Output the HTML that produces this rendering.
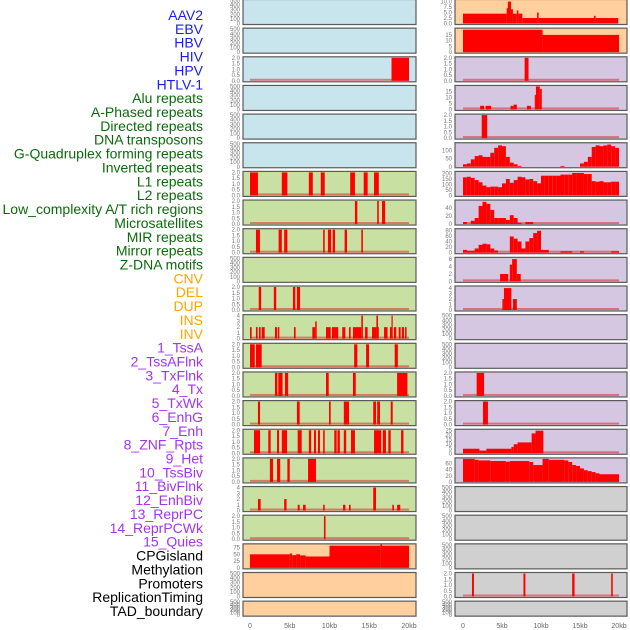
<!DOCTYPE html>
<html><head><meta charset="utf-8">
<style>
html,body{margin:0;padding:0;background:#fff;}
svg{display:block;font-family:"Liberation Sans",sans-serif;}
</style></head>
<body>
<svg id="chart" width="630" height="630" viewBox="0 0 630 630" xmlns="http://www.w3.org/2000/svg"></svg>
<script>
// ---- labels ----
const trackLabels = ["AAV2","EBV","HBV","HIV","HPV","HTLV-1","Alu repeats","A-Phased repeats","Directed repeats","DNA transposons","G-Quadruplex forming repeats","Inverted repeats","L1 repeats","L2 repeats","Low_complexity A/T rich regions","Microsatellites","MIR repeats","Mirror repeats","Z-DNA motifs","CNV","DEL","DUP","INS","INV","1_TssA","2_TssAFlnk","3_TxFlnk","4_Tx","5_TxWk","6_EnhG","7_Enh","8_ZNF_Rpts","9_Het","10_TssBiv","11_BivFlnk","12_EnhBiv","13_ReprPC","14_ReprPCWk","15_Quies","CPGisland","Methylation","Promoters","ReplicationTiming","TAD_boundary"];
const labelGroups = [6,13,5,15,5];
const xTickValues = [0,5,10,15,20];
const xTickLabels = ["0","5kb","10kb","15kb","20kb"];

// ---- tick sets ----
const ticks500 = [0,100,200,300,400,500];
const ticks2 = [0,0.5,1,1.5,2];
const ticks4 = [0,1,2,3,4];

// ---- left column data: [startKb, endKb, value] ----
const L3_segments = [[17.8,20,2]];
const L7_segments = [[0,1,2],[4,4.7,2],[7.4,7.9,2],[8.9,9.4,2],[12.6,13.2,2],[14.3,14.8,2],[15.6,16.2,2]];
const L8_segments = [[13.2,13.5,2],[16,16.2,2],[16.6,17,2]];
const L9_segments = [[0.75,1.25,2],[3.6,4,2],[4.3,4.7,2],[9.2,9.4,2],[9.8,10.2,2],[10.4,10.7,2],[11.9,12.2,2],[14,14.2,2]];
const L11_segments = [[1.1,1.4,2],[3,3.3,2],[5.4,5.7,2],[5.9,6.3,2]];
const L12_segments = [[0,0.21,2],[0.75,0.96,2],[1.13,1.34,2],[1.47,1.85,2],[3.14,3.4,2],[3.5,3.69,2],[5.53,5.74,2],[7.84,8.2,2],[8.2,8.39,3],[9.56,10.15,2],[10.3,11.1,2],[11.6,12,2],[12.45,12.66,2],[12.95,14.0,2],[14.0,14.2,4],[14.47,14.8,2],[15.35,15.9,2],[15.9,16.1,4],[16.1,16.2,2],[16.86,17.3,2],[17.6,17.8,2],[17.8,17.95,4],[18.1,18.4,2],[18.7,18.95,2],[19.1,19.37,2],[19.5,19.7,2]];
const L13_segments = [[0,0.6,2],[0.75,1.47,2],[13.1,13.5,2],[14.6,14.97,2],[18.2,18.6,2]];
const L14_segments = [[3.14,3.44,2],[3.56,4.1,2],[4.4,4.8,2],[9.56,9.9,2],[12.95,13.3,2],[18.5,19.8,2]];
const L15_segments = [[1.0,1.26,2],[5.9,6.25,2],[9.94,10.15,2],[11.8,12.45,2],[15.5,15.85,2],[16,16.35,2],[17.7,17.95,2]];
const L16_segments = [[0.5,1.26,2],[2.3,2.6,2],[3.4,3.65,2],[4.0,4.66,2],[6.0,6.5,2],[7.4,7.7,2],[8.05,8.3,2],[8.55,8.8,2],[9.2,9.4,2],[10.6,10.9,2],[11,11.3,2],[11.8,12.1,2],[12.7,13.2,2],[15.6,16.5,2],[16.7,17.1,2],[17.4,17.7,2],[19,19.3,2]];
const L17_segments = [[2.5,2.9,2],[3.4,3.8,2],[4.7,5.0,2],[7.3,8.3,2]];
const L18_segments = [[1.0,1.34,2],[4.3,4.6,2],[6.0,6.25,1],[6.67,7.0,1],[9.2,9.4,1],[11.7,12.0,1],[12.45,12.66,1],[15.5,15.85,4],[17.9,18.1,1],[18.5,18.9,1]];
const L19_segments = [[9.3,9.5,2]];
const L20_segments = [[0,5,50],[5,5.3,53],[5.3,5.8,47],[5.8,6.3,50],[6.3,7,46],[7,10,42],[10,16.4,82],[16.4,16.6,87],[16.6,20,82]];

// ---- right column data ----
const R1_segments = [[0,5.6,4.5],[5.6,5.75,7],[5.75,6.15,10],[6.15,6.4,6.5],[6.4,6.9,4.5],[6.9,7.1,6],[7.1,7.6,4.5],[7.6,9.5,2.5],[9.5,9.7,5],[9.7,16.8,2.5],[16.8,17,3.5],[17,19.9,2.5]];
const R2_segments = [[0,10.2,19.5],[10.2,20,15]];
const R3_segments = [[7.9,8.4,2]];
const R4_segments = [[2.2,2.7,3],[2.9,3.6,3],[6.1,6.5,3],[6.5,6.9,4],[8.2,8.7,3],[9.2,9.35,12],[9.35,9.85,19],[9.85,10.1,17]];
const R5_segments = [[2.4,3.1,2]];
const R6_bins = [15,20,45,65,70,60,60,85,115,130,125,60,25,15,5,0,0,0,0,0,0,0,0,0,0,5,0,0,0,0,20,30,60,120,130,125,130,135,125,115];
const R7_bins = [165,170,160,140,120,90,75,80,80,75,110,150,115,140,170,165,145,150,130,110,180,180,180,180,180,190,190,190,205,205,205,195,195,130,125,130,120,120,125,125];
const R8_bins = [5,0,8,15,45,55,50,35,15,15,15,10,22,15,3,0,5,5,0,0,0,0,0,0,0,0,0,0,0,0,0,0,0,0,0,0,0,0,0,0];
const R9_bins = [10,7,7,15,28,32,30,15,8,0,0,0,58,50,40,15,40,52,70,78,10,10,0,0,0,5,5,5,0,0,5,0,0,0,0,0,0,0,5,5];
const R10_segments = [[4.75,5.8,2],[6.0,6.3,4.5],[6.3,6.9,6],[6.9,7.4,2]];
const R11_segments = [[5.05,5.25,2],[5.25,6.2,4],[6.4,6.9,2]];
const R14_segments = [[1.75,2.7,2]];
const R15_segments = [[2.56,3.2,2]];
const R16_segments = [[0,2.1,5],[2.1,3,3],[3,6.2,5],[6.2,6.5,7],[6.5,7,10],[7,8.8,12],[8.8,9.3,22],[9.3,10.3,25]];
const R17_segments = [[0,1.5,75],[1.5,2,72],[2,3.5,70],[3.5,5.5,68],[5.5,6,66],[6,8.5,68],[8.5,9,65],[9,10.2,55],[10.2,11,75],[11,13,72],[13,13.5,70],[13.5,14,65],[14,14.5,55],[14.5,15,52],[15,15.5,44],[15.5,16,38],[16,16.5,35],[16.5,17,32],[17,17.5,28],[17.5,20,25]];
const R21_segments = [[1.15,1.4,2],[7.75,8.0,2],[14.0,14.3,2],[19.0,19.2,2]];

const BG = {blue:"#c8e4ec",green:"#c8e0a2",orange:"#ffd09e",purple:"#d5c6e2",gray:"#d0d0d0"};

function binsToSegments(bins){const out=[];bins.forEach((v,i)=>{if(v>0)out.push([i*0.5,i*0.5+0.5,v]);});return out;}

// track configs: bg, ticks, ymax, segments, baseline, tickLabels
const leftTracks = [
 {bg:"blue",t:ticks500,ymax:500,s:[]},
 {bg:"blue",t:ticks500,ymax:500,s:[]},
 {bg:"blue",t:ticks2,ymax:2,s:L3_segments,b:true,f:1},
 {bg:"blue",t:ticks500,ymax:500,s:[]},
 {bg:"blue",t:ticks500,ymax:500,s:[]},
 {bg:"blue",t:ticks500,ymax:500,s:[]},
 {bg:"green",t:ticks2,ymax:2,s:L7_segments,b:true,f:1},
 {bg:"green",t:ticks2,ymax:2,s:L8_segments,b:true,f:1},
 {bg:"green",t:ticks2,ymax:2,s:L9_segments,b:true,f:1},
 {bg:"green",t:ticks500,ymax:500,s:[]},
 {bg:"green",t:ticks2,ymax:2,s:L11_segments,b:true,f:1},
 {bg:"green",t:ticks4,ymax:4,s:L12_segments,b:true},
 {bg:"green",t:ticks2,ymax:2,s:L13_segments,b:true,f:1},
 {bg:"green",t:ticks2,ymax:2,s:L14_segments,b:true,f:1},
 {bg:"green",t:ticks2,ymax:2,s:L15_segments,b:true,f:1},
 {bg:"green",t:ticks2,ymax:2,s:L16_segments,b:true,f:1},
 {bg:"green",t:ticks2,ymax:2,s:L17_segments,b:true,f:1},
 {bg:"green",t:ticks4,ymax:4,s:L18_segments,b:true},
 {bg:"green",t:ticks2,ymax:2,s:L19_segments,b:true,f:1},
 {bg:"orange",t:[0,25,50,75],ymax:85,s:L20_segments},
 {bg:"orange",t:ticks500,ymax:500,s:[]},
 {bg:"orange",t:ticks500,ymax:500,s:[],small:true}
];
const rightTracks = [
 {bg:"orange",t:[0,2.5,5,7.5,10],ymax:10.5,s:R1_segments,f:1},
 {bg:"orange",t:[0,5,10,15],ymax:20,s:R2_segments},
 {bg:"purple",t:ticks2,ymax:2,s:R3_segments,b:true,f:1},
 {bg:"purple",t:[0,5,10,15],ymax:19,s:R4_segments,b:true},
 {bg:"purple",t:ticks2,ymax:2,s:R5_segments,b:true,f:1},
 {bg:"purple",t:[0,50,100],ymax:140,s:binsToSegments(R6_bins)},
 {bg:"purple",t:[0,50,100,150,200],ymax:210,s:binsToSegments(R7_bins)},
 {bg:"purple",t:[0,20,40],ymax:57,s:binsToSegments(R8_bins),b:true},
 {bg:"purple",t:[0,20,40,60,80],ymax:82,s:binsToSegments(R9_bins),b:true},
 {bg:"purple",t:[0,2,4,6],ymax:6.2,s:R10_segments,b:true},
 {bg:"purple",t:ticks4,ymax:4.2,s:R11_segments,b:true},
 {bg:"purple",t:ticks500,ymax:500,s:[]},
 {bg:"purple",t:ticks500,ymax:500,s:[]},
 {bg:"purple",t:ticks2,ymax:2,s:R14_segments,b:true,f:1},
 {bg:"purple",t:ticks2,ymax:2,s:R15_segments,b:true,f:1},
 {bg:"purple",t:[0,5,10,15,20,25],ymax:25.5,s:R16_segments,b:true},
 {bg:"purple",t:[0,20,40,60],ymax:75,s:R17_segments},
 {bg:"gray",t:ticks500,ymax:500,s:[]},
 {bg:"gray",t:ticks500,ymax:500,s:[]},
 {bg:"gray",t:ticks500,ymax:500,s:[]},
 {bg:"gray",t:ticks2,ymax:2,s:R21_segments,b:true,f:1},
 {bg:"gray",t:ticks500,ymax:500,s:[],small:true}
];

const NS="http://www.w3.org/2000/svg";
const svg=document.getElementById('chart');
function mk(tag,attrs,parent){const e=document.createElementNS(NS,tag);for(const k in attrs)e.setAttribute(k,attrs[k]);(parent||svg).appendChild(e);return e;}

// labels
const groupColors=["#1a1aff","#0b6b0b","#ffa500","#a234f2","#000000"];
let gi=0,gc=0;
trackLabels.forEach((txt,i)=>{
  const t=mk('text',{x:203,y:20+i*13.86,'text-anchor':'end','font-size':14,fill:groupColors[gi]});
  
  
  t.textContent=txt;
  gc++; if(gc>=labelGroups[gi]){gi++;gc=0;}
});

const cols=[{x0:243,x1:416,z:250,w:409},{x0:455,x1:627,z:463,w:619}];
function drawColumn(tracks,ci){
  const c=cols[ci];
  const xs=v=>c.z+(c.w-c.z)*v/20;
  tracks.forEach((tr,ri)=>{
    const top=-0.5+ri*28.65;
    const h=tr.small?15:25;
    const g=mk('g',{});
    
    
    const bg=mk('rect',{x:c.x0,y:top,width:c.x1-c.x0,height:h,fill:BG[tr.bg],stroke:"#5a5a5a",'stroke-width':1.2},g);
    
    
    const yb=top+h-1, yt=top+1;
    const ys=v=>yb-(yb-yt)*v/tr.ymax;
    if(tr.b){
      const bl=mk('rect',{x:xs(0),y:yb-2,width:xs(20)-xs(0),height:2,fill:"rgba(220,40,40,0.55)"},g);
      
      
    }
    tr.s.forEach(s=>{
      const x1=xs(s[0]),x2=xs(s[1]);
      const r=mk('rect',{x:x1,y:ys(s[2]),width:Math.max(tr.f?1.5:0.6,x2-x1),height:yb-ys(s[2]),fill:"#ff0000"},g);
      
      
    });
    tr.t.forEach(v=>{
      const yy=ys(v);
      const lab=mk('text',{x:c.x0-3,y:yy+2,'text-anchor':'end','font-size':6,fill:"#777"},g);
      
      
      let s=String(v);
      if(tr.t===ticks2) s=v.toFixed(1);
      if(tr.t.some(q=>q%1!==0) && tr.t!==ticks2) s=v.toFixed(1);
      lab.textContent=s;
    });
  });
  xTickValues.forEach((v,i)=>{
    const t=mk('text',{x:xs(v),y:628,'text-anchor':'middle','font-size':7,fill:"#666"});
    
    
    t.textContent=xTickLabels[i];
  });
}
drawColumn(leftTracks,0);
drawColumn(rightTracks,1);
</script>
</body></html>
